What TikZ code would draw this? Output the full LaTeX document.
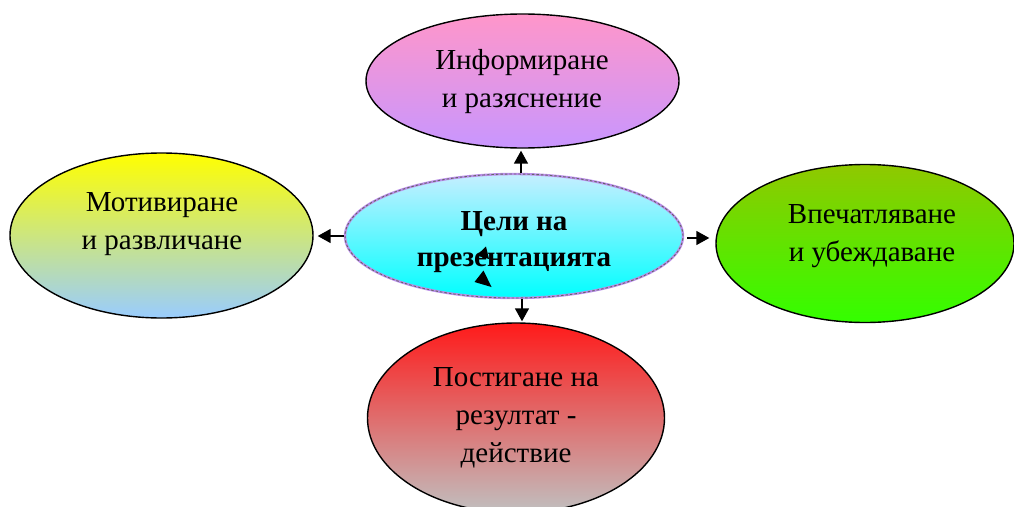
\documentclass[tikz,border=0pt]{standalone}
\usepackage{fontspec}
\setmainfont{Liberation Serif}
\usetikzlibrary{shapes.geometric,arrows.meta}
\definecolor{pinkT}{HTML}{FF96CA}
\definecolor{lilacM}{HTML}{D696EE}
\definecolor{lilacB}{HTML}{C896FF}
\definecolor{yellowT}{HTML}{FFFF00}
\definecolor{yblueM}{HTML}{BEDACC}
\definecolor{blueB}{HTML}{99CCFF}
\definecolor{cyanT}{HTML}{C6EEFF}
\definecolor{cyanB}{HTML}{00FFFF}
\definecolor{oliveT}{HTML}{90C800}
\definecolor{greenM}{HTML}{50F000}
\definecolor{greenB}{HTML}{33FF00}
\definecolor{redT}{HTML}{FF1A1A}
\definecolor{silverB}{HTML}{C0C0C0}
\definecolor{rimC}{HTML}{BB8FEA}
\tikzset{
  oval/.style={ellipse, draw=black, line width=1.4pt, inner sep=0pt},
  lbl/.style={font=\fontsize{29}{38}\selectfont, align=center, text=black},
  conn/.style={line width=1.6pt, -{Triangle[length=13pt,width=14pt]}},
}
\begin{document}
\begin{tikzpicture}[x=1pt,y=-1pt]
\useasboundingbox (0,0) rectangle (1014,506);
\clip (0,0) rectangle (1014,506);
% ellipses
\node[oval, top color=pinkT, middle color=lilacM, bottom color=lilacB, minimum width=313pt, minimum height=134pt] (top) at (522.5,81) {};
\node[oval, top color=yellowT, middle color=yblueM, bottom color=blueB, minimum width=303pt, minimum height=165pt] (left) at (161.5,235.5) {};
\node[oval, top color=oliveT, middle color=greenM, bottom color=greenB, minimum width=298pt, minimum height=158pt] (right) at (865,243.5) {};
\node[oval, top color=redT, bottom color=silverB, minimum width=297pt, minimum height=190pt] (bot) at (516,418) {};
\node[ellipse, inner sep=0pt, top color=cyanT, bottom color=cyanB, draw=rimC, line width=2.4pt,
      minimum width=338pt, minimum height=124pt,
      postaction={draw=black!60, line width=0.9pt, dash pattern=on 2.5pt off 2pt}] (mid) at (514,236) {};
% texts
\node[lbl] (topT) at (522,82) {Информиране\\и разяснение};
\node[lbl] (leftT) at (162,224) {Мотивиране\\и развличане};
\node[lbl] (rightT) at (872,236) {Впечатляване\\и убеждаване};
\node[lbl] (botT) at (516,418) {Постигане на\\резултат -\\действие};
\node[lbl, font=\fontsize{29}{36}\selectfont\bfseries] (midT) at (514,242) {Цели на\\презентацията};
% connectors
\draw[conn, shorten >=2pt] ([xshift=7pt]mid.north) -- ([xshift=7pt]mid.north |- top.south);
\draw[conn, shorten >=4pt] (mid.west) -- (mid.west -| left.east);
\draw[conn, shorten <=3pt, shorten >=6pt] ([yshift=-2pt]mid.east) -- ([yshift=-2pt]mid.east -| right.west);
\draw[conn, shorten >=1pt] ([xshift=8pt]mid.south) -- ([xshift=8pt]mid.south |- bot.north);
% stray arrowheads
\fill[black] (486,246.5) -- (476.5,255.5) -- (489,259) -- cycle;
\fill[black] (483.5,270.5) -- (474.5,282) -- (491.5,287) -- cycle;
\end{tikzpicture}
\end{document}
